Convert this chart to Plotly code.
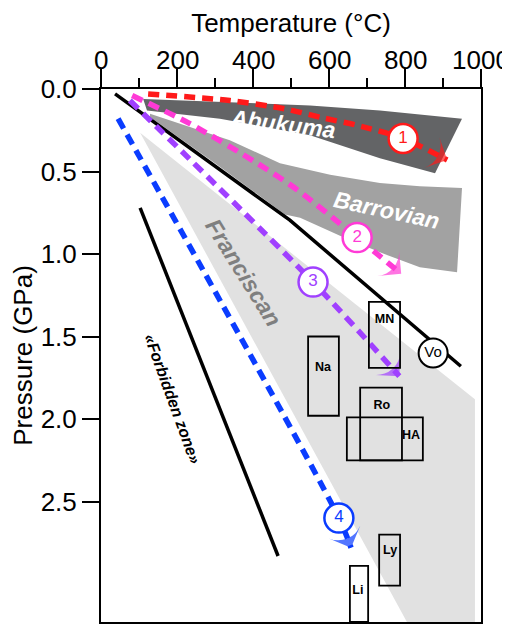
import plotly.graph_objects as go

# ---- data (Temperature in °C, Pressure in GPa) ----
franciscan_T = [103, 984, 984, 805]
franciscan_P = [0.265, 1.88, 3.23, 3.23]

barrovian_T = [129, 339, 471, 603, 734, 839, 950, 937, 839, 734, 629, 524, 484, 300, 129]
barrovian_P = [0.15, 0.31, 0.45, 0.52, 0.57, 0.59, 0.60, 1.11, 1.08, 0.99, 0.89, 0.78, 0.76, 0.45, 0.17]

abukuma_T = [111, 321, 550, 734, 950, 879, 734, 550, 313, 121]
abukuma_P = [0.06, 0.08, 0.10, 0.13, 0.18, 0.51, 0.42, 0.28, 0.18, 0.13]

geotherm_T = [37, 497, 947]
geotherm_P = [0.03, 0.795, 1.68]

forbidden_T = [103, 466]
forbidden_P = [0.72, 2.83]

path1_T = [124, 339, 484, 584, 674, 795, 911]
path1_P = [0.03, 0.07, 0.12, 0.175, 0.22, 0.30, 0.43]
path2_T = [82, 234, 411, 516, 674, 790]
path2_P = [0.04, 0.21, 0.45, 0.61, 0.90, 1.12]
path3_T = [76, 558, 785]
path3_P = [0.07, 1.17, 1.74]
path4_T = [45, 626, 658]
path4_P = [0.18, 2.60, 2.78]

circle_T = [795, 674, 558, 626]
circle_P = [0.30, 0.90, 1.17, 2.60]
circle_labels = ["1", "2", "3", "4"]

path_colors = ["#ff1a1a", "#ff3ad6", "#a040ff", "#0a3cff"]

vo_T = [874]
vo_P = [1.60]

box_names = ["MN", "Na", "Ro", "HA", "Ly", "Li"]
box_T0 = [705, 545, 682, 647, 732, 655]
box_T1 = [787, 626, 792, 847, 787, 703]
box_P0 = [1.29, 1.50, 1.81, 1.99, 2.70, 2.89]
box_P1 = [1.69, 1.98, 2.25, 2.25, 3.01, 3.23]
box_label_T = [746, 584, 739, 816, 761, 676]
box_label_P = [1.40, 1.69, 1.92, 2.10, 2.80, 3.04]

x_ticks = [0, 200, 400, 600, 800, 1000]
x_ticktext = ["0", "200", "400", "600", "800", "1000"]
y_ticks = [0.0, 0.5, 1.0, 1.5, 2.0, 2.5]
y_ticktext = ["0.0", "0.5", "1.0", "1.5", "2.0", "2.5"]

FONT = "Liberation Sans, Arial, sans-serif"

fig = go.Figure()

# regions
fig.add_trace(go.Scatter(x=franciscan_T, y=franciscan_P, fill="toself", mode="lines",
                         line=dict(width=0), fillcolor="#e1e1e1", hoverinfo="skip"))
fig.add_trace(go.Scatter(x=barrovian_T, y=barrovian_P, fill="toself", mode="lines",
                         line=dict(width=0), fillcolor="#a2a2a2", hoverinfo="skip"))
fig.add_trace(go.Scatter(x=abukuma_T, y=abukuma_P, fill="toself", mode="lines",
                         line=dict(width=0), fillcolor="#636466", hoverinfo="skip"))

# black lines
fig.add_trace(go.Scatter(x=geotherm_T, y=geotherm_P, mode="lines",
                         line=dict(color="black", width=3.5), hoverinfo="skip"))
fig.add_trace(go.Scatter(x=forbidden_T, y=forbidden_P, mode="lines",
                         line=dict(color="black", width=3.5), hoverinfo="skip"))

# boxes
for t0, t1, p0, p1 in zip(box_T0, box_T1, box_P0, box_P1):
    fig.add_shape(type="rect", xref="x", yref="y", x0=t0, x1=t1, y0=p0, y1=p1,
                  line=dict(color="black", width=1.8), fillcolor="rgba(0,0,0,0)")
fig.add_trace(go.Scatter(x=box_label_T, y=box_label_P, mode="text", text=box_names,
                         textfont=dict(family=FONT, size=12.5, color="black", weight="bold"),
                         hoverinfo="skip"))

# dashed P-T paths with arrowheads
paths = [(path1_T, path1_P), (path2_T, path2_P), (path3_T, path3_P), (path4_T, path4_P)]
for (tt, pp), col in zip(paths, path_colors):
    n = len(tt)
    fig.add_trace(go.Scatter(
        x=tt, y=pp, mode="lines+markers",
        line=dict(color=col, width=5.5, dash="11px,7px", shape="spline", smoothing=0.8),
        marker=dict(symbol=["circle"] * (n - 1) + ["arrow-wide"], size=[0] * (n - 1) + [24],
                    color=col, angleref="previous", line=dict(width=0)),
        hoverinfo="skip"))

# numbered circles
fig.add_trace(go.Scatter(
    x=circle_T, y=circle_P, mode="markers+text", text=circle_labels,
    textposition="middle center",
    marker=dict(size=29, color="white", line=dict(color=path_colors, width=2.5)),
    textfont=dict(family=FONT, size=17, color=path_colors),
    hoverinfo="skip"))

# Vo circle
fig.add_trace(go.Scatter(
    x=vo_T, y=vo_P, mode="markers+text", text=["Vo"], textposition="middle center",
    marker=dict(size=29, color="white", line=dict(color="black", width=2)),
    textfont=dict(family=FONT, size=15, color="black"),
    hoverinfo="skip"))

# region labels
fig.add_annotation(x=479, y=0.21, text="<b><i>Abukuma</i></b>", showarrow=False, textangle=7,
                   font=dict(family=FONT, size=23, color="white"))
fig.add_annotation(x=750, y=0.735, text="<b><i>Barrovian</i></b>", showarrow=False, textangle=12,
                   font=dict(family=FONT, size=23, color="white"))
fig.add_annotation(x=374, y=1.11, text="<b><i>Franciscan</i></b>", showarrow=False, textangle=58,
                   font=dict(family=FONT, size=23, color="#7f7f7f"))
fig.add_annotation(x=189, y=1.88, text="<b><i>«Forbidden zone»</i></b>", showarrow=False, textangle=70,
                   font=dict(family=FONT, size=16, color="black"))

# temperature tick labels, sitting right on top of the long ticks
for v, s in zip(x_ticks, x_ticktext):
    fig.add_annotation(x=v, y=1, xref="x", yref="paper", text=s, showarrow=False,
                       yanchor="bottom", yshift=12, font=dict(family=FONT, size=26, color="black"))

# page has an 8px body margin, so the figure is sized to fit the 510x626 window
fig.update_layout(
    width=502, height=618,
    margin=dict(l=93, r=29, t=80, b=2),
    paper_bgcolor="white", plot_bgcolor="white",
    showlegend=False,
    font=dict(family=FONT, color="black"),
)
fig.update_xaxes(
    range=[0, 1000], side="top", tickvals=x_ticks, showticklabels=False,
    ticks="outside", ticklen=18, tickwidth=2, tickcolor="black",
    minor=dict(dtick=100, tick0=0, ticks="outside", ticklen=9, tickwidth=2, tickcolor="black"),
    showline=True, linewidth=2, linecolor="black", mirror=True,
    showgrid=False, zeroline=False,
    title=dict(text="Temperature (°C)", font=dict(family=FONT, size=26, color="black"), standoff=43),
)
fig.update_yaxes(
    range=[3.23, 0], tickvals=y_ticks, ticktext=y_ticktext,
    ticks="outside", ticklen=17, tickwidth=2, tickcolor="black",
    showline=True, linewidth=2, linecolor="black", mirror=True,
    showgrid=False, zeroline=False,
    tickfont=dict(family=FONT, size=26, color="black"),
    title=dict(text="Pressure (GPa)", font=dict(family=FONT, size=26, color="black"), standoff=10),
)

fig.write_html("out.html")
